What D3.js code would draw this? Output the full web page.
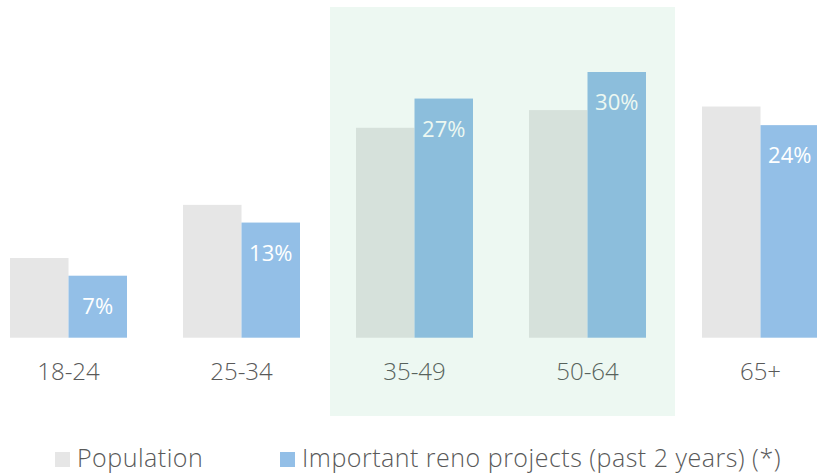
<!DOCTYPE html>
<html>
<head>
<meta charset="utf-8">
<script src="https://cdn.jsdelivr.net/npm/d3@7"></script>
<style>
  html, body { margin: 0; padding: 0; background: #ffffff; }
  svg { display: block; }
  text { font-family: "Open Sans", sans-serif; }
</style>
</head>
<body>
<svg id="chart" width="817" height="476"></svg>
<script>
const categories = ["18-24", "25-34", "35-49", "50-64", "65+"];
const seriesNames = ["Population", "Important reno projects (past 2 years) (*)"];
const population = [9, 15, 23.7, 25.7, 26.1];
const reno = [7, 13, 27, 30, 24];
const renoLabels = ["7%", "13%", "27%", "30%", "24%"];
const highlighted = ["35-49", "50-64"];

const colors = ["#e6e6e6", "#93bfe7"];

const svg = d3.select("#chart");

const x0 = d3.scaleBand()
  .domain(categories)
  .range([10, 819])
  .paddingInner(56 / 173)
  .paddingOuter(0);

const x1 = d3.scaleBand()
  .domain([0, 1])
  .range([0, x0.bandwidth()])
  .padding(0);

const y = d3.scaleLinear()
  .domain([0, 30])
  .range([337.7, 72]);

const rows = categories.map((c, i) => ({ cat: c, vals: [population[i], reno[i]], label: renoLabels[i] }));

const g = svg.append("g");

const groups = g.selectAll("g.grp")
  .data(rows)
  .join("g")
  .attr("class", "grp")
  .attr("transform", d => `translate(${x0(d.cat)},0)`);

groups.selectAll("rect")
  .data(d => d.vals.map((v, k) => ({ v, k })))
  .join("rect")
  .attr("x", d => x1(d.k))
  .attr("width", x1.bandwidth())
  .attr("y", d => y(d.v))
  .attr("height", d => y(0) - y(d.v))
  .attr("fill", d => colors[d.k]);

groups.append("text")
  .attr("x", x1(1) + x1.bandwidth() / 2)
  .attr("y", d => y(d.vals[1]) + 38)
  .attr("text-anchor", "middle")
  .attr("font-size", 22)
  .attr("fill", "#ffffff")
  .text(d => d.label);

// axis labels
const axis = d3.axisBottom(x0).tickSize(0).tickPadding(0);
const axG = svg.append("g")
  .attr("transform", "translate(0,380)")
  .call(axis);
axG.select(".domain").remove();
axG.selectAll("text")
  .attr("dy", 0)
  .attr("y", 0)
  .attr("font-size", 24)
  .attr("font-weight", 300)
  .attr("font-family", "'Open Sans', sans-serif")
  .attr("fill", "#595959");

// highlight overlay
const hx0 = x0(highlighted[0]) - 26;
const hx1 = x0(highlighted[highlighted.length - 1]) + x0.bandwidth() + 29;
svg.append("rect")
  .attr("x", hx0)
  .attr("y", 7)
  .attr("width", hx1 - hx0)
  .attr("height", 409)
  .attr("fill", "rgb(80,185,130)")
  .attr("fill-opacity", 0.1);

// legend
const legendX = [55, 280];
const leg = svg.append("g");
seriesNames.forEach((name, i) => {
  leg.append("rect")
    .attr("x", legendX[i])
    .attr("y", 452)
    .attr("width", 15)
    .attr("height", 15)
    .attr("fill", colors[i]);
  leg.append("text")
    .attr("x", legendX[i] + 22)
    .attr("y", 467)
    .attr("font-size", 25)
    .attr("font-weight", 300)
    .attr("letter-spacing", 0.5)
    .attr("fill", "#595959")
    .text(name);
});
</script>
</body>
</html>
